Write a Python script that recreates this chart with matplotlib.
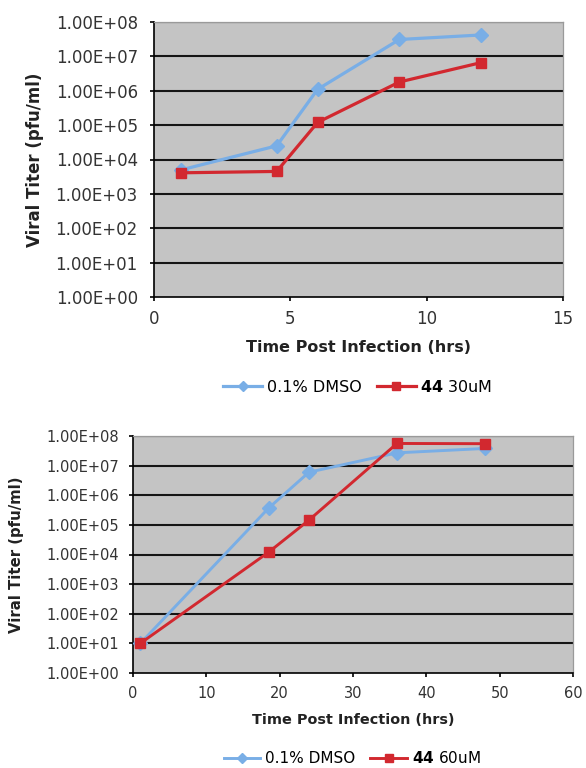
import matplotlib
matplotlib.use("Agg")
import matplotlib.pyplot as plt
from matplotlib.ticker import FixedLocator, FixedFormatter

# ---- data ----
t1 = [1, 4.5, 6, 9, 12]
dmso1 = [5.0e3, 2.5e4, 1.1e6, 3.1e7, 4.2e7]
cmpd30 = [4.1e3, 4.5e3, 1.2e5, 1.8e6, 6.6e6]

t2 = [1, 18.5, 24, 36, 48]
dmso2 = [10, 3.7e5, 6.0e6, 2.7e7, 3.8e7]
cmpd60 = [10, 1.2e4, 1.45e5, 5.6e7, 5.5e7]

ytick_vals = [10.0 ** k for k in range(0, 9)]
ytick_labels = ["1.00E+%02d" % k for k in range(0, 9)]
xticks1 = [0, 5, 10, 15]
xticks2 = [0, 10, 20, 30, 40, 50, 60]

label_dmso = "0.1% DMSO"
label_30 = r"$\mathbf{44}$ 30uM"
label_60 = r"$\mathbf{44}$ 60uM"
xlabel = "Time Post Infection (hrs)"
ylabel = "Viral Titer (pfu/ml)"

BLUE = "#79aee6"
RED = "#d2282f"
GRAY = "#c4c4c4"

fig = plt.figure(figsize=(5.86, 7.68), dpi=100)
fig.patch.set_facecolor("white")


def style(ax, xticks, xmax, tfs, lfs, ypad, xpad, xl_y, yl_x):
    ax.set_facecolor(GRAY)
    ax.set_yscale("log")
    ax.set_ylim(1, 1e8)
    ax.set_xlim(0, xmax)
    ax.yaxis.set_major_locator(FixedLocator(ytick_vals))
    ax.yaxis.set_major_formatter(FixedFormatter(ytick_labels))
    ax.yaxis.set_minor_locator(FixedLocator([]))
    ax.set_xticks(xticks)
    ax.set_xticklabels([str(x) for x in xticks])
    for y in ytick_vals[1:]:
        ax.axhline(y, color="#151515", lw=1.5, zorder=1)
    for s in ["top", "right"]:
        ax.spines[s].set_color("#9a9a9a")
        ax.spines[s].set_linewidth(0.9)
    for s in ["left", "bottom"]:
        ax.spines[s].set_color("black")
        ax.spines[s].set_linewidth(1.2)
    ax.tick_params(axis="both", direction="out", length=3.2, width=1.2,
                   labelsize=tfs, colors="black", labelcolor="#333333")
    ax.tick_params(axis="y", pad=ypad)
    ax.tick_params(axis="x", pad=xpad)
    ax.set_xlabel(xlabel, fontsize=lfs[0], fontweight="bold", color="#222222")
    ax.set_ylabel(ylabel, fontsize=lfs[1], fontweight="bold", color="#222222")
    ax.xaxis.set_label_coords(0.5, xl_y)
    ax.yaxis.set_label_coords(yl_x, 0.5)


# ---- top chart ----
ax1 = fig.add_axes([154 / 586, 1 - 297 / 768, 409 / 586, 275 / 768])
ax1.plot(t1, dmso1, color=BLUE, lw=2.3, marker="D", ms=7, zorder=3, label=label_dmso)
ax1.plot(t1, cmpd30, color=RED, lw=2.3, marker="s", ms=7.5, zorder=3, label=label_30)
style(ax1, xticks1, 15, 12, (11.5, 12), 8.5, 6.5, -0.155, -0.27)
leg1 = fig.legend(*ax1.get_legend_handles_labels(), loc="center",
                  bbox_to_anchor=(358 / 586, 1 - 387 / 768), ncol=2, frameon=False,
                  fontsize=11.5, handlelength=2.4, columnspacing=1.0,
                  handletextpad=0.3, markerscale=0.75)

# ---- bottom chart ----
ax2 = fig.add_axes([133 / 586, 1 - 673 / 768, 440 / 586, 237 / 768])
ax2.plot(t2, dmso2, color=BLUE, lw=2.1, marker="D", ms=7, zorder=3, label=label_dmso)
ax2.plot(t2, cmpd60, color=RED, lw=2.1, marker="s", ms=7.5, zorder=3, label=label_60)
style(ax2, xticks2, 60, 10.5, (10.4, 10.7), 7, 6, -0.17, -0.248)
leg2 = fig.legend(*ax2.get_legend_handles_labels(), loc="center",
                  bbox_to_anchor=(352 / 586, 1 - 758 / 768), ncol=2, frameon=False,
                  fontsize=11, handlelength=2.4, columnspacing=1.0,
                  handletextpad=0.3, markerscale=0.75)

fig.savefig("out.png", dpi=100)
